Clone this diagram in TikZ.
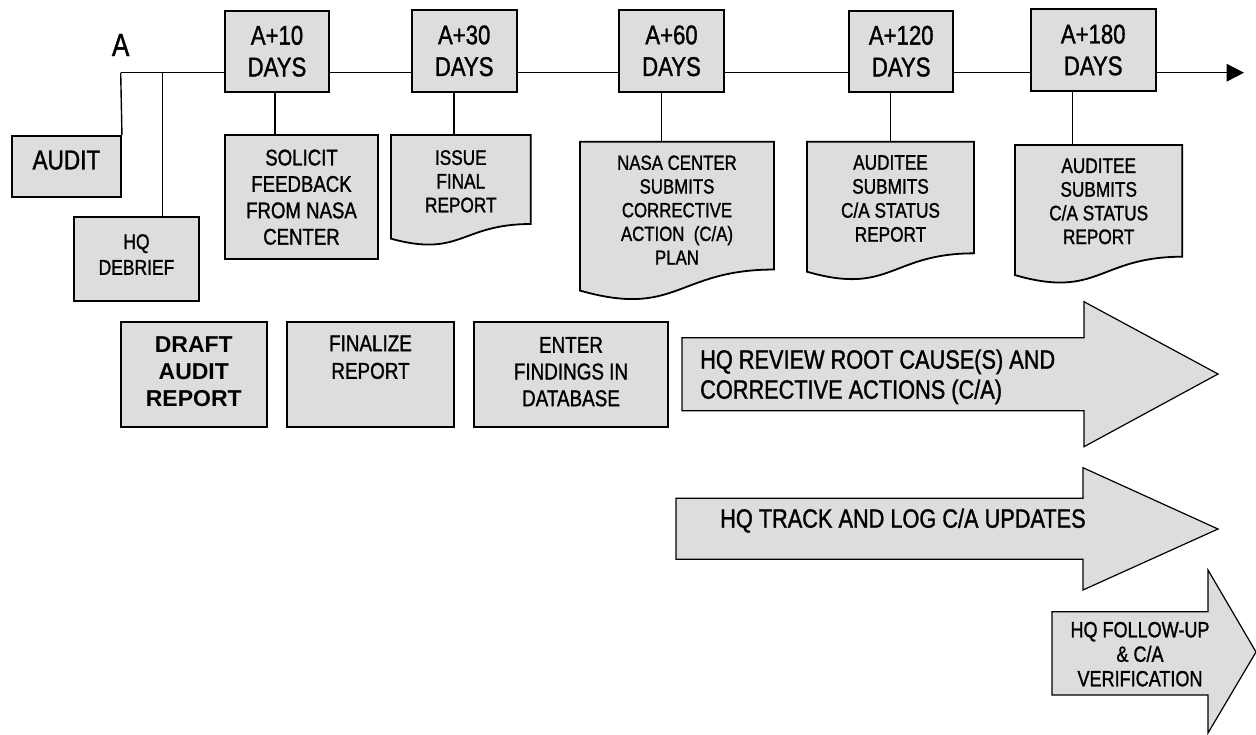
\documentclass[tikz,border=0pt]{standalone}
\usepackage{fontspec}
\setmainfont{Liberation Sans}
\newfontfamily\nar[FakeStretch=0.82,FakeBold=1.2]{Liberation Sans}
\usetikzlibrary{arrows.meta,calc}
\definecolor{boxgray}{RGB}{221,221,221}
\tikzset{
  box/.style={draw=black, line width=1.8pt, fill=boxgray, inner sep=0pt, align=center},
  daybox/.style={box, font={\nar\fontsize{27}{31.7}\selectfont}},
  link/.style={line width=1.4pt},
  blockarrow/.style={draw=black, line width=1.2pt, fill=boxgray},
  lbl/.style={inner sep=0pt, align=center},
}
\newcommand\mydoc[5]{%
  \path[draw=black, line width=1.8pt, fill=boxgray]
    (#2,#3) -- ({#2+#4},#3) -- ({#2+#4},{#3+0.802*#5})
    .. controls ({#2+0.5*#4},{#3+0.802*#5}) and ({#2+0.5*#4},{#3+1.1075*#5}) ..
    (#2,{#3+0.934*#5}) -- cycle;
  \coordinate (#1) at ({#2+0.5*#4},#3);
}
\begin{document}
\begin{tikzpicture}[x=1pt,y=-1pt]
\useasboundingbox (0,0) rectangle (1256,734);

% day boxes
\node[daybox, minimum width=104pt, minimum height=81pt] (a10) at (277,51.2) {A+10\\DAYS};
\node[daybox, minimum width=105pt, minimum height=81.7pt] (a30) at (464.2,50.8) {A+30\\DAYS};
\node[daybox, minimum width=105pt, minimum height=81.7pt] (a60) at (671.5,50.8) {A+60\\DAYS};
\node[daybox, minimum width=104.3pt, minimum height=81pt] (a120) at (901.2,51.2) {A+120\\DAYS};
\node[daybox, minimum width=125pt, minimum height=81.4pt] (a180) at (1093.2,50) {A+180\\DAYS};

% start label
\node[inner sep=0pt, anchor=base west, font={\nar\fontsize{32}{36}\selectfont}] (alabel) at (111.7,56) {A};

% timeline
\coordinate (A0) at (120.7,72.7);
\coordinate (A1) at (162.7,72.7);
\coordinate (tend) at (1244,72.7);
\draw[link] (A0) -- (A0 -| a10.west);
\draw[link] (A0 -| a10.east) -- (A0 -| a30.west);
\draw[link] (A0 -| a30.east) -- (A0 -| a60.west);
\draw[link] (A0 -| a60.east) -- (A0 -| a120.west);
\draw[link] (A0 -| a120.east) -- (A0 -| a180.west);
\draw[link, -{Triangle[length=17.3pt, width=17.4pt]}] (A0 -| a180.east) -- (tend);

% left boxes
\node[box, minimum width=109.3pt, minimum height=61pt] (audit) at (66.4,166.2) {};
\node[lbl, anchor=north, font={\nar\fontsize{27.5}{31}\selectfont}] (audittxt) at (66.4,150.3) {AUDIT};
\node[box, minimum width=125pt, minimum height=83.7pt] (hqd) at (136.5,258.8) {};
\node[lbl, anchor=north, font={\nar\fontsize{21.3}{25.7}\selectfont}] (hqdtxt) at (136.5,234) {HQ\\DEBRIEF};
\draw[link] (A0) -- (audit.north east);
\draw[link] (A1) -- (A1 |- hqd.north);

% solicit
\node[box, minimum width=153pt, minimum height=124.3pt, font={\nar\fontsize{22.7}{26.4}\selectfont}] (solicit) at (301.5,197.2) {SOLICIT\\FEEDBACK\\FROM NASA\\CENTER};
\draw[link] ([xshift=-2pt]a10.south) -- ([xshift=-2pt]a10.south |- solicit.north);

% documents
\mydoc{issue}{391}{135}{139.7}{111}
\node[lbl, anchor=north, font={\nar\fontsize{21}{23.7}\selectfont}] (issuetxt) at (460.8,150) {ISSUE\\FINAL\\REPORT};
\draw[link] ([xshift=-10.2pt]a30.south) -- ([xshift=-10.2pt]a30.south |- issue);

\mydoc{nasa}{580}{141.7}{194}{159.4}
\node[lbl, anchor=north, font={\nar\fontsize{20.5}{23.7}\selectfont}] (nasatxt) at (677,155.3) {NASA CENTER\\SUBMITS\\CORRECTIVE\\ACTION~~(C/A)\\PLAN};
\draw[link] ([xshift=-9.8pt]a60.south) -- ([xshift=-9.8pt]a60.south |- nasa);

\mydoc{aud1}{807}{141.7}{167}{139.2}
\node[lbl, anchor=north, font={\nar\fontsize{21}{24}\selectfont}] (aud1txt) at (890.5,155) {AUDITEE\\SUBMITS\\C/A STATUS\\REPORT};
\draw[link] ([xshift=-10.5pt]a120.south) -- ([xshift=-10.5pt]a120.south |- aud1);

\mydoc{aud2}{1015}{145}{167.3}{139.3}
\node[lbl, anchor=north, font={\nar\fontsize{21}{23.7}\selectfont}] (aud2txt) at (1098.7,158.3) {AUDITEE\\SUBMITS\\C/A STATUS\\REPORT};
\draw[link] ([xshift=-20.5pt]a180.south) -- ([xshift=-20.5pt]a180.south |- aud2);

% middle row boxes
\node[box, minimum width=145.7pt, minimum height=105pt] (draft) at (193.8,374.5) {};
\node[lbl, anchor=north, font={\bfseries\fontsize{23}{26.7}\selectfont}] (drafttxt) at (193.8,336.8) {DRAFT\\AUDIT\\REPORT};
\node[box, minimum width=167pt, minimum height=105pt] (final) at (370.5,374.5) {};
\node[lbl, anchor=north, font={\nar\fontsize{23}{27.6}\selectfont}] (finaltxt) at (370.5,335.2) {FINALIZE\\REPORT};
\node[box, minimum width=194pt, minimum height=105pt] (enter) at (571,374.5) {};
\node[lbl, anchor=north, font={\nar\fontsize{23}{26.7}\selectfont}] (entertxt) at (571,336.8) {ENTER\\FINDINGS IN\\DATABASE};

% block arrows
\path[blockarrow] (682,337.7) -- (1084,337.7) -- (1084,301.7) -- (1218,374) -- (1084,446.7) -- (1084,410.7) -- (682,410.7) -- cycle;
\node[inner sep=0pt, anchor=north west, align=left, font={\nar\fontsize{26.5}{30}\selectfont}] (reviewtxt) at (700,349.3) {HQ REVIEW ROOT CAUSE(S) AND\\CORRECTIVE ACTIONS (C/A)};

\path[blockarrow] (676,498.3) -- (1083,498.3) -- (1083,467.7) -- (1218,529) -- (1083,590) -- (1083,559.3) -- (676,559.3) -- cycle;
\node[inner sep=0pt, anchor=north west, align=left, font={\nar\fontsize{26.5}{30}\selectfont}] (tracktxt) at (720,508.3) {HQ TRACK AND LOG C/A UPDATES};

\path[blockarrow] (1052,611.7) -- (1208,611.7) -- (1208,570) -- (1256,652) -- (1208,733) -- (1208,695) -- (1052,695) -- cycle;
\node[lbl, anchor=north, font={\nar\fontsize{22}{24.5}\selectfont}] (followtxt) at (1140,621.7) {HQ FOLLOW-UP\\\& C/A\\VERIFICATION};
\end{tikzpicture}
\end{document}
